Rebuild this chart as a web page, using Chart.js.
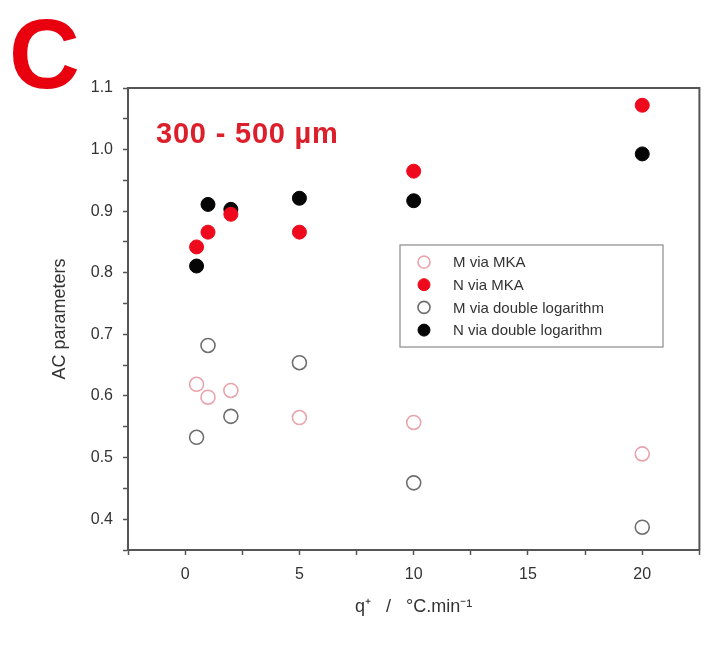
<!DOCTYPE html>
<html>
<head>
<meta charset="utf-8">
<script src="https://cdn.jsdelivr.net/npm/chart.js@4.4.1/dist/chart.umd.min.js"></script>
<style>
  html, body { margin: 0; padding: 0; background: #fff; }
  #wrap { width: 708px; height: 653px; position: relative; }
</style>
</head>
<body>
<div id="wrap"><canvas id="acChart"></canvas></div>
<script>
// heating rates, °C/min
const rates = [0.5, 1, 2, 5, 10, 20];

const mViaMka = [0.619, 0.598, 0.609, 0.565, 0.557, 0.506];
const nViaMka = [0.842, 0.866, 0.895, 0.866, 0.965, 1.072];
const mViaDoubleLog = [0.533, 0.682, 0.567, 0.654, 0.459, 0.387];
const nViaDoubleLog = [0.811, 0.911, 0.903, 0.921, 0.917, 0.993];

const seriesLabels = ['M via MKA', 'N via MKA', 'M via double logarithm', 'N via double logarithm'];

const xTickLabels = [0, 5, 10, 15, 20];
const yTickLabels = [0.4, 0.5, 0.6, 0.7, 0.8, 0.9, 1.0, 1.1];

const AXIS_COLOR = '#555';
const TEXT_COLOR = '#333';

function points(ys) {
    return rates.map((x, i) => ({ x: x, y: ys[i] }));
}

const styles = [
    { fill: 'rgba(0,0,0,0)', stroke: '#e9a3ab', width: 1.6 },
    { fill: '#ee0a1c', stroke: '#ee0a1c', width: 1 },
    { fill: 'rgba(0,0,0,0)', stroke: '#6e6e6e', width: 1.6 },
    { fill: '#050505', stroke: '#050505', width: 1 }
];

const series = [mViaMka, nViaMka, mViaDoubleLog, nViaDoubleLog];

const datasets = series.map((ys, i) => ({
    label: seriesLabels[i],
    data: points(ys),
    showLine: false,
    pointRadius: 7,
    pointBackgroundColor: styles[i].fill,
    pointBorderColor: styles[i].stroke,
    pointBorderWidth: styles[i].width
}));

// frame, panel letter, size range and the boxed legend
const decorations = {
    id: 'decorations',
    afterDatasetsDraw(chart) {
        const { ctx, chartArea: a } = chart;
        ctx.save();
        ctx.strokeStyle = AXIS_COLOR;
        ctx.lineWidth = 2;
        ctx.strokeRect(a.left, a.top, a.right - a.left, a.bottom - a.top);

        ctx.fillStyle = '#e8000f';
        ctx.font = 'bold 98px "Liberation Sans", Arial, sans-serif';
        ctx.textBaseline = 'alphabetic';
        ctx.textAlign = 'left';
        ctx.fillText('C', 9, 88);

        ctx.fillStyle = '#db1f2b';
        ctx.font = 'bold 29px "Liberation Sans", Arial, sans-serif';
        ctx.letterSpacing = '0.8px';
        ctx.fillText('300 - 500 \u00b5m', 156, 143);
        ctx.letterSpacing = '0px';

        // legend
        const lx = 400, ly = 245, lw = 263, lh = 102;
        ctx.strokeStyle = '#8a8a8a';
        ctx.lineWidth = 1.2;
        ctx.strokeRect(lx, ly, lw, lh);
        ctx.font = '15px "Liberation Sans", Arial, sans-serif';
        ctx.textBaseline = 'middle';
        chart.data.datasets.forEach((ds, i) => {
            const y = ly + 17 + i * 22.7;
            ctx.beginPath();
            ctx.arc(lx + 24, y, 6, 0, Math.PI * 2);
            ctx.fillStyle = ds.pointBackgroundColor;
            ctx.fill();
            ctx.lineWidth = ds.pointBorderWidth;
            ctx.strokeStyle = ds.pointBorderColor;
            ctx.stroke();
            ctx.fillStyle = TEXT_COLOR;
            ctx.fillText(ds.label, lx + 53, y + 1);
        });
        ctx.restore();
    }
};

const isLabelled = (list, v) => list.some(t => Math.abs(t - v) < 1e-6);

new Chart(document.getElementById('acChart'), {
    type: 'scatter',
    data: { datasets },
    options: {
        responsive: true,
        maintainAspectRatio: false,
        animation: false,
        events: [],
        layout: { padding: { left: 0, top: 88, right: 5, bottom: 0 } },
        plugins: {
            legend: { display: false },
            tooltip: { enabled: false }
        },
        scales: {
            x: {
                type: 'linear',
                min: -2.5,
                max: 22.5,
                afterFit: s => { s.height = 103; s.paddingLeft = 0; s.paddingRight = 0; },
                border: { display: true, color: AXIS_COLOR, width: 2 },
                grid: { drawOnChartArea: false, drawTicks: true, tickLength: 5, color: AXIS_COLOR, tickWidth: 1.5 },
                ticks: {
                    stepSize: 2.5,
                    padding: 10,
                    color: TEXT_COLOR,
                    font: { family: '"Liberation Sans", Arial, sans-serif', size: 16 },
                    callback: v => isLabelled(xTickLabels, v) ? String(v) : ''
                },
                title: {
                    display: true,
                    text: 'q\u207a   /   \u00b0C.min\u207b\u00b9',
                    color: TEXT_COLOR,
                    font: { family: '"Liberation Sans", Arial, sans-serif', size: 18 },
                    padding: { top: 0, bottom: 35 }
                }
            },
            y: {
                min: 0.35,
                max: 1.1,
                afterFit: s => { s.width = 128; },
                border: { display: true, color: AXIS_COLOR, width: 2 },
                grid: { drawOnChartArea: false, drawTicks: true, tickLength: 5, color: AXIS_COLOR, tickWidth: 1.5 },
                ticks: {
                    stepSize: 0.05,
                    padding: 10,
                    color: TEXT_COLOR,
                    font: { family: '"Liberation Sans", Arial, sans-serif', size: 16 },
                    callback: v => isLabelled(yTickLabels, v) ? v.toFixed(1) : ''
                },
                title: {
                    display: true,
                    text: 'AC parameters',
                    color: TEXT_COLOR,
                    font: { family: '"Liberation Sans", Arial, sans-serif', size: 18 },
                    padding: { top: 49, bottom: 0 }
                }
            }
        }
    },
    plugins: [decorations]
});
</script>
</body>
</html>
